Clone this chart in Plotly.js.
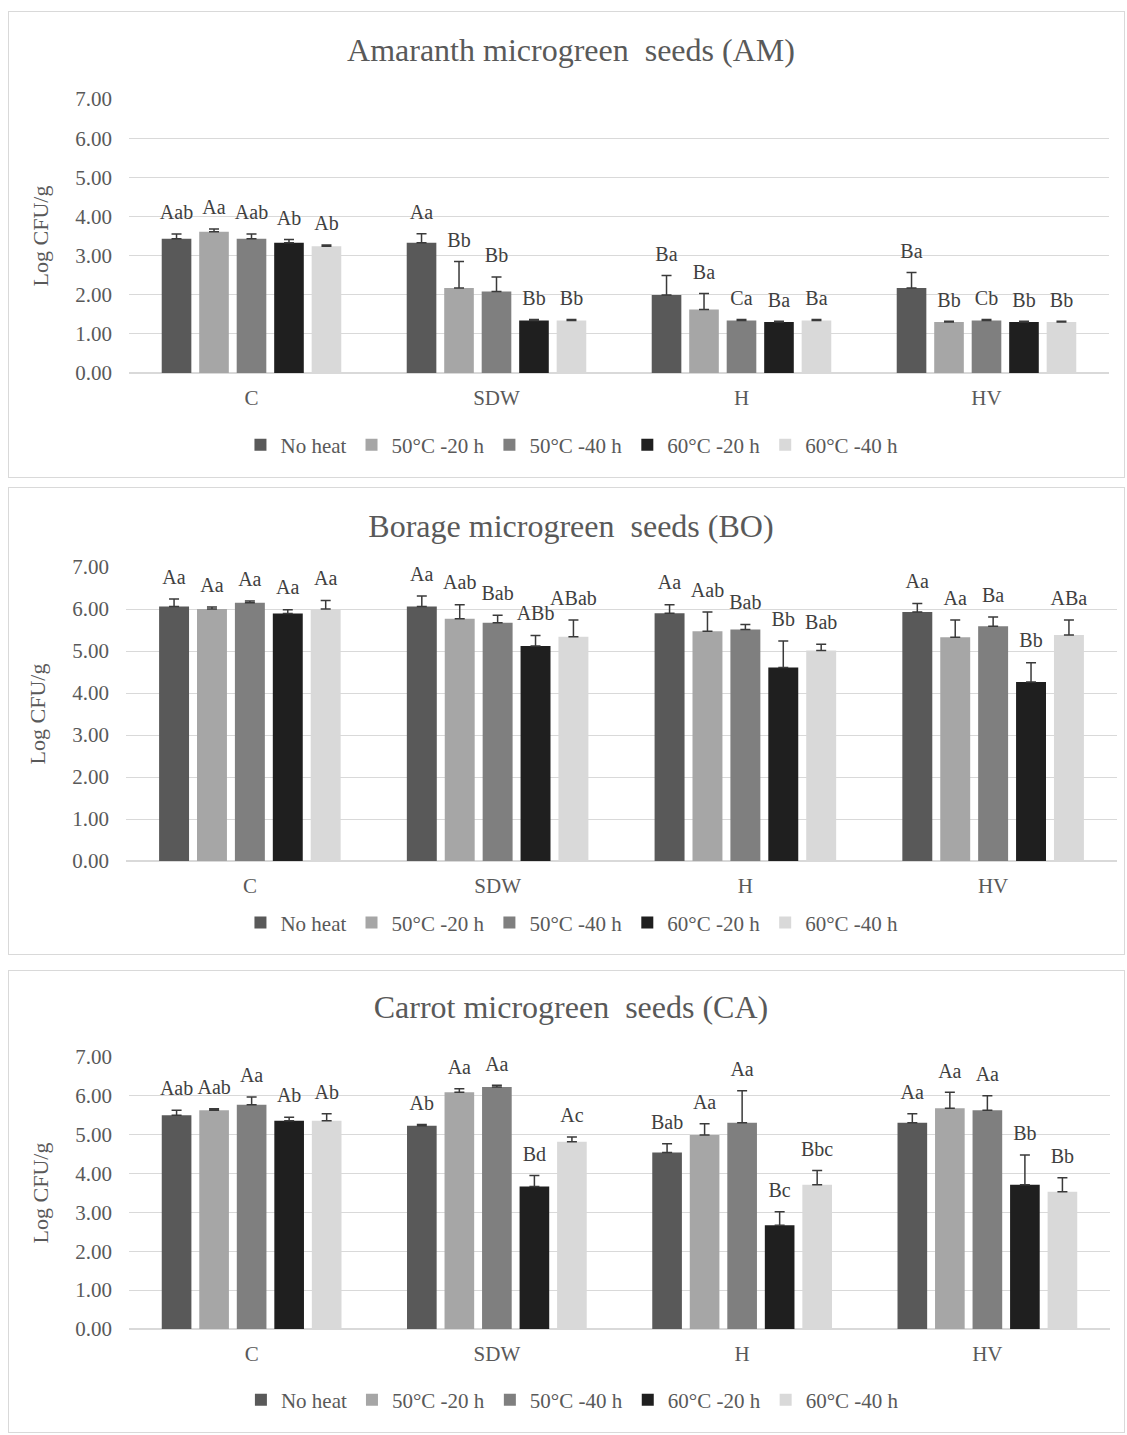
<!DOCTYPE html>
<html>
<head>
<meta charset="utf-8">
<script src="https://cdn.plot.ly/plotly-3.0.1.min.js"></script>
<style>
  html, body { margin: 0; padding: 0; background: #ffffff; }
  body { width: 1127px; height: 1435px; position: relative; overflow: hidden; }
  .panel { position: absolute; outline: 1px solid #d9d9d9; outline-offset: -1px; }
</style>
</head>
<body>
<div id="p1" class="panel"></div>
<div id="p2" class="panel"></div>
<div id="p3" class="panel"></div>
<script>
// ---------------- DATA ----------------
const categories = ['C', 'SDW', 'H', 'HV'];
const seriesNames = ['No heat', '50°C -20 h', '50°C -40 h', '60°C -20 h', '60°C -40 h'];

// Amaranth (AM): rows = series, columns = categories
const amValues = [
  [3.43, 3.33, 1.99, 2.17],
  [3.61, 2.17, 1.62, 1.30],
  [3.43, 2.08, 1.34, 1.34],
  [3.33, 1.34, 1.30, 1.30],
  [3.24, 1.34, 1.34, 1.30]
];
const amErrors = [
  [0.12, 0.23, 0.50, 0.40],
  [0.07, 0.68, 0.41, 0.02],
  [0.12, 0.37, 0.03, 0.03],
  [0.08, 0.03, 0.02, 0.02],
  [0.03, 0.03, 0.03, 0.02]
];
const amLabels = [
  ['Aab', 'Aa', 'Ba', 'Ba'],
  ['Aa', 'Bb', 'Ba', 'Bb'],
  ['Aab', 'Bb', 'Ca', 'Cb'],
  ['Ab', 'Bb', 'Ba', 'Bb'],
  ['Ab', 'Bb', 'Ba', 'Bb']
];

// Borage (BO)
const boValues = [
  [6.06, 6.06, 5.90, 5.93],
  [6.00, 5.77, 5.47, 5.33],
  [6.15, 5.67, 5.51, 5.59],
  [5.89, 5.12, 4.61, 4.26],
  [6.00, 5.34, 5.01, 5.38]
];
const boErrors = [
  [0.18, 0.25, 0.20, 0.20],
  [0.05, 0.33, 0.46, 0.41],
  [0.04, 0.18, 0.12, 0.22],
  [0.09, 0.25, 0.63, 0.46],
  [0.20, 0.40, 0.15, 0.36]
];
const boLabels = [
  ['Aa', 'Aa', 'Aa', 'Aa'],
  ['Aa', 'Aab', 'Aab', 'Aa'],
  ['Aa', 'Bab', 'Bab', 'Ba'],
  ['Aa', 'ABb', 'Bb', 'Bb'],
  ['Aa', 'ABab', 'Bab', 'ABa']
];

// Carrot (CA)
const caValues = [
  [5.50, 5.23, 4.54, 5.31],
  [5.63, 6.09, 4.99, 5.68],
  [5.77, 6.23, 5.31, 5.63],
  [5.36, 3.67, 2.67, 3.71],
  [5.36, 4.82, 3.71, 3.53]
];
const caErrors = [
  [0.13, 0.03, 0.23, 0.23],
  [0.04, 0.09, 0.29, 0.41],
  [0.20, 0.04, 0.82, 0.37],
  [0.09, 0.28, 0.35, 0.77],
  [0.18, 0.12, 0.37, 0.36]
];
const caLabels = [
  ['Aab', 'Ab', 'Bab', 'Aa'],
  ['Aab', 'Aa', 'Aa', 'Aa'],
  ['Aa', 'Aa', 'Aa', 'Aa'],
  ['Ab', 'Bd', 'Bc', 'Bb'],
  ['Ab', 'Ac', 'Bbc', 'Bb']
];

const yTitle = 'Log CFU/g';
const titles = [
  'Amaranth microgreen\u00a0 seeds (AM)',
  'Borage microgreen\u00a0 seeds (BO)',
  'Carrot microgreen\u00a0 seeds (CA)'
];

// ---------------- STYLE ----------------
const seriesColors = ['#595959', '#a6a6a6', '#7f7f7f', '#1f1f1f', '#d9d9d9'];
const FONT = '"Liberation Serif", "Times New Roman", serif';
const TEXT_COLOR = '#595959';
const LABEL_COLOR = '#404040';
const LABEL_PAD = 0.2; // gap (axis units) between error bar top and letter label

function makePanel(divId, title, values, errors, labels, g) {
  const el = document.getElementById(divId);
  el.style.left = g.left + 'px';
  el.style.top = g.top + 'px';
  el.style.width = g.width + 'px';
  el.style.height = g.height + 'px';

  const traces = [];
  seriesNames.forEach((name, i) => {
    traces.push({
      type: 'bar',
      name: name,
      x: categories,
      y: values[i],
      offsetgroup: 'g' + i,
      marker: { color: seriesColors[i], line: { width: 0 } },
      error_y: {
        type: 'data',
        symmetric: false,
        array: errors[i],
        arrayminus: errors[i].map(() => 0),
        color: '#3a3a3a',
        thickness: 1.5,
        width: 5
      },
      hoverinfo: 'x+y+name'
    });
  });
  seriesNames.forEach((name, i) => {
    traces.push({
      type: 'bar',
      name: name + ' label',
      x: categories,
      base: values[i].map((v, j) => v + errors[i][j]),
      y: categories.map(() => LABEL_PAD),
      offsetgroup: 'g' + i,
      marker: { color: 'rgba(0,0,0,0)', line: { width: 0 } },
      text: labels[i],
      textposition: 'outside',
      textangle: 0,
      constraintext: 'none',
      cliponaxis: false,
      textfont: { family: FONT, size: 20, color: LABEL_COLOR },
      showlegend: false,
      hoverinfo: 'skip'
    });
  });

  const layout = {
    width: g.width,
    height: g.height,
    margin: g.margin,
    paper_bgcolor: 'rgba(0,0,0,0)',
    plot_bgcolor: '#ffffff',
    font: { family: FONT, color: TEXT_COLOR },
    barmode: 'group',
    bargap: 0.235,
    bargroupgap: 0.21,
    title: {
      text: title,
      font: { family: FONT, size: 32, color: TEXT_COLOR },
      x: 0.504, xref: 'container', xanchor: 'center',
      y: g.titleY, yref: 'container', yanchor: 'middle'
    },
    xaxis: {
      type: 'category',
      showgrid: false,
      showline: false,
      zeroline: false,
      ticks: '',
      ticklabelstandoff: 10,
      tickfont: { family: FONT, size: 21, color: TEXT_COLOR },
      fixedrange: true
    },
    yaxis: {
      range: [0, 7.0001],
      dtick: 1,
      tick0: 0,
      tickformat: '.2f',
      showgrid: true,
      gridcolor: '#d9d9d9',
      gridwidth: 1,
      zeroline: true,
      zerolinecolor: '#d9d9d9',
      zerolinewidth: 1.5,
      showline: false,
      ticks: '',
      ticklabelstandoff: 16,
      tickfont: { family: FONT, size: 21, color: TEXT_COLOR },
      title: { text: yTitle, font: { family: FONT, size: 22, color: TEXT_COLOR }, standoff: 20 },
      fixedrange: true
    },
    showlegend: true,
    legend: {
      orientation: 'h',
      x: g.legendX, xanchor: 'center',
      y: g.legendY, yanchor: 'middle',
      font: { family: FONT, size: 21, color: TEXT_COLOR },
      itemwidth: 30,
      bgcolor: 'rgba(0,0,0,0)',
      traceorder: 'normal'
    }
  };
  Plotly.newPlot(el, traces, layout, { displayModeBar: false, staticPlot: true });
}

makePanel('p1', titles[0], amValues, amErrors, amLabels, {
  left: 8, top: 11, width: 1117, height: 467,
  margin: { l: 121, r: 16, t: 88, b: 105, pad: 0 },
  titleY: 1 - 39 / 467, legendX: 0.452, legendY: -0.263
});
makePanel('p2', titles[1], boValues, boErrors, boLabels, {
  left: 8, top: 487, width: 1117, height: 468,
  margin: { l: 118, r: 8, t: 80, b: 94, pad: 0 },
  titleY: 1 - 39 / 468, legendX: 0.450, legendY: -0.21
});
makePanel('p3', titles[2], caValues, caErrors, caLabels, {
  left: 8, top: 970, width: 1117, height: 463,
  margin: { l: 121, r: 15, t: 87, b: 100, pad: 0 },
  titleY: 1 - 37 / 463, legendX: 0.452, legendY: -0.261
});
</script>
</body>
</html>
